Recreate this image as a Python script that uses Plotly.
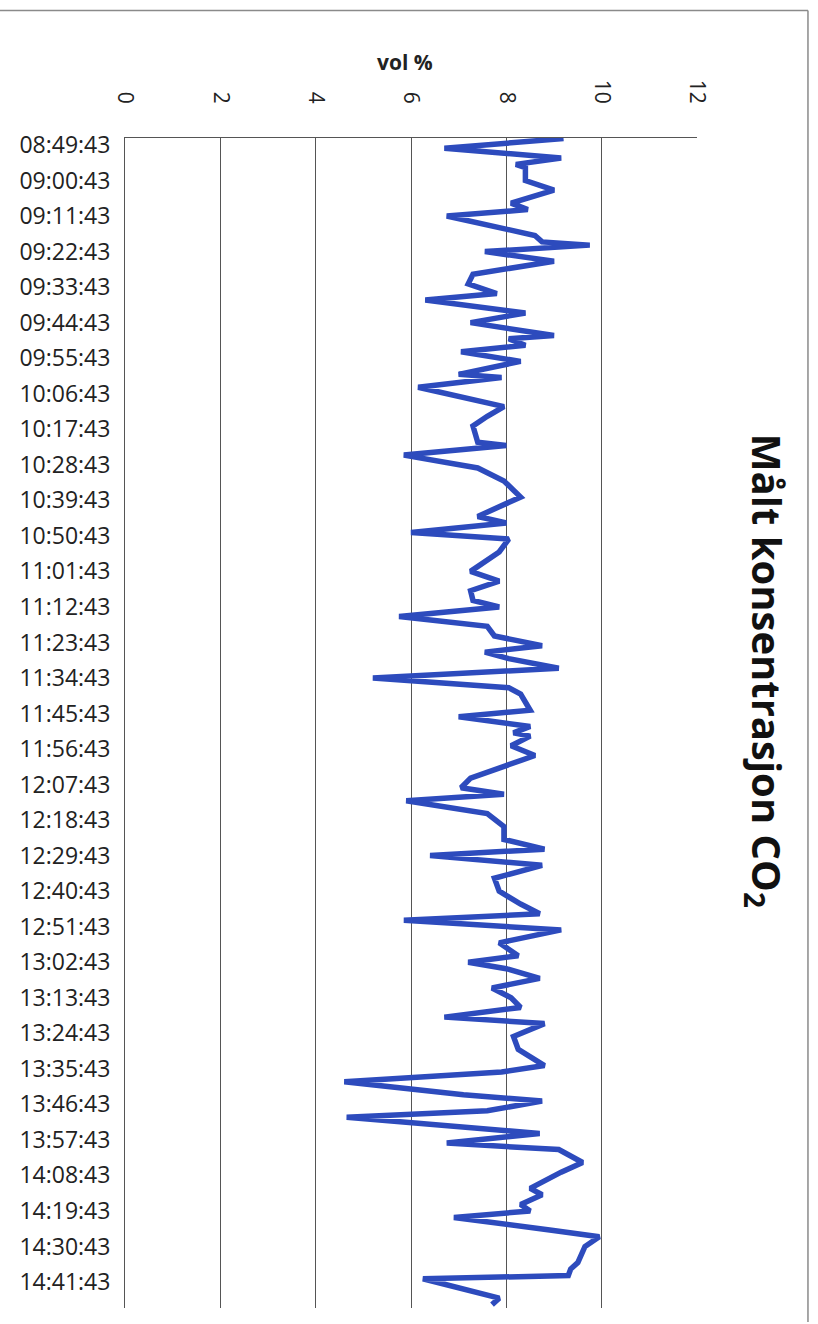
import plotly.graph_objects as go

DAY = "2000-01-01 "

# Measured CO2 concentration, one reading per logged minute (vol %)
times = [
    "08:47:43", "08:50:43", "08:53:43", "08:55:43", "08:56:43", "09:00:43", "09:03:43", "09:07:43",
    "09:09:43", "09:11:43", "09:17:43", "09:19:43", "09:20:43", "09:22:43", "09:25:43", "09:27:43",
    "09:29:43", "09:32:43", "09:35:43", "09:37:43", "09:41:43", "09:44:43", "09:48:43", "09:49:43",
    "09:51:43", "09:53:43", "09:56:43", "10:00:43", "10:01:43", "10:04:43", "10:09:43", "10:10:43",
    "10:13:43", "10:16:43", "10:21:43", "10:22:43", "10:25:43", "10:29:43", "10:33:43", "10:38:43",
    "10:44:43", "10:46:43", "10:49:43", "10:51:43", "10:55:43", "11:01:43", "11:04:43", "11:07:43",
    "11:10:43", "11:12:43", "11:15:43", "11:18:43", "11:21:43", "11:24:43", "11:26:43", "11:28:43",
    "11:31:43", "11:34:43", "11:37:43", "11:39:43", "11:44:43", "11:46:43", "11:49:43", "11:51:43",
    "11:52:43", "11:55:43", "11:58:43", "12:05:43", "12:08:43", "12:10:43", "12:12:43", "12:16:43",
    "12:20:43", "12:24:43", "12:27:43", "12:29:43", "12:32:43", "12:36:43", "12:40:43", "12:44:43",
    "12:47:43", "12:49:43", "12:52:43", "12:56:43", "13:00:43", "13:02:43", "13:04:43", "13:07:43",
    "13:10:43", "13:13:43", "13:16:43", "13:19:43", "13:21:43", "13:25:43", "13:29:43", "13:34:43",
    "13:36:43", "13:39:43", "13:43:43", "13:45:43", "13:48:43", "13:50:43", "13:55:43", "13:58:43",
    "14:00:43", "14:04:43", "14:07:43", "14:12:43", "14:14:43", "14:17:43", "14:19:43", "14:21:43",
    "14:25:43", "14:27:43", "14:30:43", "14:35:43", "14:37:43", "14:39:43", "14:40:43", "14:44:43",
    "14:46:43", "14:48:43",
]
co2_vol_pct = [
    9.2, 6.7, 9.15, 8.2, 8.4, 8.4, 9.0, 8.1,
    8.45, 6.75, 8.6, 8.75, 9.75, 7.55, 9.0, 8.05,
    7.3, 7.2, 7.8, 6.3, 8.4, 7.25, 9.0, 8.05,
    8.4, 7.05, 8.3, 7.0, 7.9, 6.15, 7.6, 7.95,
    7.6, 7.3, 7.4, 8.0, 5.85, 7.4, 7.95, 8.3,
    7.4, 8.0, 6.0, 8.05, 7.85, 7.25, 7.85, 7.25,
    7.3, 7.85, 5.75, 7.6, 7.75, 8.75, 7.55, 8.05,
    9.1, 5.2, 8.05, 8.3, 8.5, 7.0, 8.5, 8.15,
    8.5, 8.1, 8.6, 7.25, 7.05, 7.95, 5.9, 7.6,
    7.95, 7.95, 8.8, 6.4, 8.75, 7.75, 7.85, 8.3,
    8.7, 5.85, 9.15, 7.85, 8.25, 7.2, 8.0, 8.7,
    7.7, 8.1, 8.3, 6.7, 8.8, 8.15, 8.25, 8.8,
    7.9, 4.6, 7.1, 8.75, 7.6, 4.65, 8.7, 6.75,
    9.1, 9.6, 9.15, 8.5, 8.75, 8.3, 8.5, 6.9,
    8.95, 9.95, 9.65, 9.5, 9.35, 9.3, 6.25, 7.25,
    7.85, 7.7,
]

time_ticks = [
    "08:49:43", "09:00:43", "09:11:43", "09:22:43", "09:33:43", "09:44:43", "09:55:43",
    "10:06:43", "10:17:43", "10:28:43", "10:39:43", "10:50:43", "11:01:43", "11:12:43",
    "11:23:43", "11:34:43", "11:45:43", "11:56:43", "12:07:43", "12:18:43", "12:29:43",
    "12:40:43", "12:51:43", "13:02:43", "13:13:43", "13:24:43", "13:35:43", "13:46:43",
    "13:57:43", "14:08:43", "14:19:43", "14:30:43", "14:41:43",
]
value_ticks = [0, 2, 4, 6, 8, 10, 12]

LINE_BLUE = "#2d4bbd"
GRID = "#555555"
FONT = "Open Sans"

fig = go.Figure(
    go.Scatter(
        x=co2_vol_pct,
        y=[DAY + t for t in times],
        mode="lines",
        line=dict(color=LINE_BLUE, width=5.5),
        hoverinfo="x+y",
    )
)

fig.update_xaxes(
    side="top",
    range=[0, 12],
    tickvals=value_ticks,
    ticktext=[str(v) for v in value_ticks],
    tickangle=90,
    tickfont=dict(family=FONT, size=21, color="#222"),
    ticklabelstandoff=26,
    showgrid=True,
    gridcolor=GRID,
    gridwidth=1,
    zeroline=False,
    showline=True,
    linecolor=GRID,
    linewidth=1,
    ticks="",
)

fig.update_yaxes(
    type="date",
    range=[DAY + "14:49:46", DAY + "08:47:33"],
    tickvals=[DAY + t for t in time_ticks],
    ticktext=time_ticks,
    tickfont=dict(family=FONT, size=23, color="#222"),
    showgrid=False,
    zeroline=False,
    showline=True,
    linecolor=GRID,
    linewidth=1,
    ticks="",
    ticklabelstandoff=9,
)

fig.add_annotation(
    text="<b>vol %</b>",
    xref="paper", yref="paper",
    x=0.4895, y=1.065,
    xanchor="center", yanchor="middle",
    showarrow=False,
    font=dict(family=FONT, size=21, color="#222"),
)

fig.add_annotation(
    text="<b>Målt konsentrasjon CO<sub>2</sub></b>",
    xref="paper", yref="paper",
    x=1.121, y=0.5444,
    xanchor="center", yanchor="middle",
    textangle=90,
    showarrow=False,
    font=dict(family=FONT, size=40, color="#111"),
)

# Outer chart frame: top edge and right edge
fig.add_shape(type="line", xref="paper", yref="paper",
              x0=-0.22, x1=1.194, y0=1.109, y1=1.109,
              line=dict(color="#8a8a8a", width=1.5))
fig.add_shape(type="line", xref="paper", yref="paper",
              x0=1.194, x1=1.194, y0=1.109, y1=-0.012,
              line=dict(color="#8a8a8a", width=1.5))

fig.update_layout(
    width=818,
    height=1324,
    margin=dict(l=125, r=121, t=138, b=16),
    paper_bgcolor="white",
    plot_bgcolor="white",
    showlegend=False,
)

fig.write_html("out.html")
